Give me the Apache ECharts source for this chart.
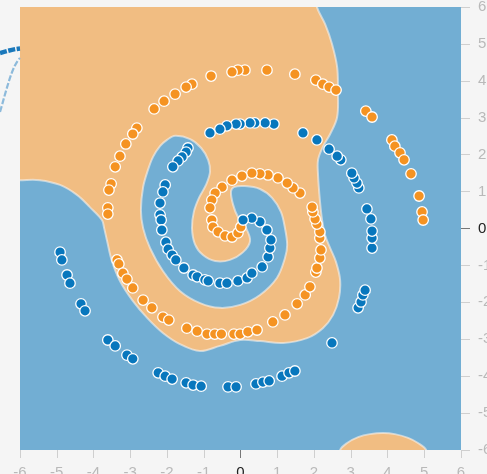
<!DOCTYPE html>
<html>
<head>
<meta charset="utf-8">
<script src="https://cdn.jsdelivr.net/npm/echarts@6/dist/echarts.min.js"></script>
<style>
  html, body { margin: 0; padding: 0; background: #f5f5f5; }
  #chart { width: 487px; height: 474px; }
</style>
</head>
<body>
<div id="chart"></div>
<script>
// Axis ticks
const xTicks = [-6, -5, -4, -3, -2, -1, 0, 1, 2, 3, 4, 5, 6];
const yTicks = [-6, -5, -4, -3, -2, -1, 0, 1, 2, 3, 4, 5, 6];

// Decision regions (outlines in data space)
const orangeRegionMain = [
  [-6.3, 6.3], [2.08, 6.3], [2.08, 6], [2.30, 5.54], [2.49, 5.00], [2.63, 4.37], [2.65, 3.75],
  [2.63, 3.02], [2.44, 2.56], [2.24, 2.21], [2.11, 1.86], [2.11, 1.45], [2.16, 0.77],
  [2.22, 0.23], [2.30, -0.18], [2.44, -0.53], [2.60, -0.91], [2.71, -1.39], [2.68, -1.88],
  [2.52, -2.34], [2.24, -2.70], [1.81, -2.97], [1.16, -3.10], [0.53, -3.05], [-0.01, -3.02],
  [-0.56, -3.18], [-1.10, -3.32], [-1.65, -3.13], [-2.11, -2.83], [-2.54, -2.42],
  [-2.93, -1.96], [-3.28, -1.42], [-3.50, -0.88], [-3.63, -0.34], [-3.71, 0.01],
  [-3.77, 0.23], [-4.10, 0.58], [-4.45, 0.91], [-4.91, 1.18], [-5.46, 1.31], [-6, 1.31],
  [-6.3, 1.31]
];
const blueRegionInner = [
  [-1.78, 2.51], [-1.37, 2.42], [-1.07, 2.18], [-0.88, 1.86], [-0.83, 1.53], [-0.94, 1.18],
  [-1.13, 0.83], [-1.27, 0.45], [-1.32, 0.01], [-1.24, -0.42], [-1.02, -0.72], [-0.69, -0.88],
  [-0.29, -0.85], [0.07, -0.64], [0.26, -0.34], [0.15, 0.01], [-0.07, 0.31], [-0.20, 0.64],
  [-0.26, 0.99], [-0.18, 1.12], [0.12, 1.15], [0.53, 1.07], [0.86, 0.83], [1.10, 0.45],
  [1.21, 0.01], [1.27, -0.45], [1.21, -0.80], [0.99, -1.34], [0.53, -1.80], [-0.01, -2.07],
  [-0.56, -2.15], [-1.10, -2.02], [-1.65, -1.69], [-2.11, -1.15], [-2.46, -0.53],
  [-2.65, 0.01], [-2.71, 0.50], [-2.65, 1.12], [-2.52, 1.58], [-2.38, 1.94], [-2.19, 2.23],
  [-2.00, 2.40]
];
const orangeRegionBottom = [
  [2.71, -6.3], [2.71, -6.0], [2.90, -5.81], [3.20, -5.65], [3.52, -5.57], [3.88, -5.54],
  [4.20, -5.57], [4.56, -5.67], [4.83, -5.81], [5.05, -6.0], [5.05, -6.3]
];

// Class 1 (orange) samples
const orangePoints = [
  [0.12, 4.29], [-0.07, 4.29], [-0.23, 4.24], [0.72, 4.29], [1.48, 4.18], [2.05, 4.02],
  [2.24, 3.91], [2.41, 3.83], [2.60, 3.75], [-0.80, 4.13], [-1.32, 3.91], [-1.48, 3.83],
  [-1.78, 3.64], [-2.08, 3.45], [-2.35, 3.24], [-2.82, 2.72], [-2.93, 2.56], [-3.12, 2.29],
  [-3.28, 1.96], [-3.41, 1.67], [-3.52, 1.21], [-3.58, 1.04], [-3.61, 0.56], [-3.61, 0.39],
  [-3.36, -0.85], [-3.31, -0.96], [-3.20, -1.21], [-3.09, -1.37], [-2.93, -1.61],
  [-2.65, -1.94], [-2.41, -2.15], [-2.11, -2.40], [-1.95, -2.48], [-1.46, -2.70],
  [-1.18, -2.78], [-0.91, -2.86], [-0.70, -2.86], [-0.52, -2.86], [-0.18, -2.86],
  [-0.01, -2.86], [0.20, -2.80], [0.45, -2.75], [0.88, -2.53], [1.21, -2.34], [1.54, -2.04],
  [1.76, -1.80], [1.89, -1.58], [2.05, -1.18], [2.08, -1.07], [2.16, -0.80], [2.19, -0.58],
  [2.16, -0.26], [2.16, -0.09], [2.08, 0.12], [2.03, 0.26], [1.97, 0.45], [1.95, 0.58],
  [1.62, 0.96], [1.43, 1.10], [1.27, 1.23], [1.02, 1.37], [0.75, 1.45], [0.53, 1.48],
  [0.31, 1.50], [0.04, 1.42], [-0.23, 1.31], [-0.50, 1.12], [-0.69, 0.96], [-0.78, 0.77],
  [-0.83, 0.56], [-0.78, 0.23], [-0.75, 0.04], [-0.61, -0.09], [-0.42, -0.20],
  [-0.23, -0.23], [-0.07, -0.12], [0.01, 0.04],
  [3.41, 3.18], [3.58, 3.02], [4.12, 2.40], [4.20, 2.23], [4.34, 2.05], [4.45, 1.86],
  [4.64, 1.48], [4.86, 0.88], [4.94, 0.45], [4.97, 0.23]
];

// Class 2 (blue) samples
const bluePoints = [
  [-4.91, -0.64], [-4.86, -0.85], [-4.72, -1.26], [-4.64, -1.48], [-4.34, -2.04],
  [-4.23, -2.23], [-3.61, -3.02], [-3.41, -3.18], [-3.09, -3.43], [-2.93, -3.53],
  [-2.24, -3.91], [-2.05, -4.00], [-1.86, -4.08], [-1.48, -4.18], [-1.29, -4.24],
  [-1.07, -4.27], [-0.34, -4.29], [-0.12, -4.29], [0.42, -4.21], [0.61, -4.16],
  [0.78, -4.13], [1.13, -4.00], [1.32, -3.91], [1.48, -3.86], [2.49, -3.10], [3.20, -2.15],
  [3.28, -1.99], [3.33, -1.80], [3.39, -1.67], [3.58, -0.53], [3.58, -0.26], [3.58, -0.07],
  [3.55, 0.26], [3.44, 0.53], [3.22, 1.10], [3.17, 1.23], [3.09, 1.37], [3.03, 1.50],
  [2.73, 1.86], [2.63, 1.96], [2.41, 2.15], [2.08, 2.40], [1.70, 2.59], [0.91, 2.83],
  [0.67, 2.86], [0.39, 2.86], [0.26, 2.86], [-0.01, 2.83], [-0.12, 2.83], [-0.37, 2.78],
  [-0.56, 2.69], [-0.83, 2.59],
  [-1.43, 2.18], [-1.48, 2.07], [-1.59, 1.94], [-1.70, 1.83], [-1.84, 1.67], [-2.05, 1.18],
  [-2.11, 0.99], [-2.19, 0.69], [-2.19, 0.37], [-2.16, 0.23], [-2.14, -0.04], [-2.03, -0.37],
  [-1.97, -0.56], [-1.86, -0.72], [-1.76, -0.85], [-1.54, -1.07], [-1.29, -1.26],
  [-1.18, -1.31], [-0.97, -1.39], [-0.88, -1.42], [-0.56, -1.48], [-0.37, -1.48],
  [-0.07, -1.42], [0.18, -1.34], [0.31, -1.21], [0.59, -1.04], [0.75, -0.77], [0.80, -0.53],
  [0.83, -0.31], [0.72, -0.04], [0.53, 0.18], [0.31, 0.28], [0.07, 0.23]
];

const ORANGE_FILL = '#f1bd82';
const BLUE_FILL = '#72aed3';
const ORANGE_DOT = '#f59322';
const BLUE_DOT = '#0877bd';
const FONT = 'Helvetica, Arial, "Liberation Sans", sans-serif';

const regionShapes = [orangeRegionMain, blueRegionInner, orangeRegionBottom];
const regionFills = [ORANGE_FILL, BLUE_FILL, ORANGE_FILL];

const chart = echarts.init(document.getElementById('chart'), null, { renderer: 'canvas' });

const labelText = {
  fontSize: 15,
  fontFamily: FONT,
  formatter: v => (v === 0 ? '{z|0}' : '{n|' + v + '}'),
  rich: {
    n: { color: '#b9b9b9', fontSize: 15, fontFamily: FONT },
    z: { color: '#222', fontSize: 15, fontFamily: FONT }
  }
};

function baseAxis(extra) {
  return Object.assign({
    type: 'value', min: -6, max: 6, interval: 1,
    axisLine: { show: false, onZero: false },
    splitLine: { show: false }
  }, extra);
}

const option = {
  animation: false,
  backgroundColor: '#f5f5f5',
  grid: {
    left: 20, right: 26, top: 7, bottom: 24,
    containLabel: false,
    outerBoundsMode: 'none',
    show: true, backgroundColor: BLUE_FILL, borderWidth: 0
  },
  xAxis: [
    baseAxis({
      position: 'bottom',
      axisTick: { show: true, length: 8, customValues: xTicks, lineStyle: { color: '#cfcfcf', width: 1 } },
      axisLabel: Object.assign({ margin: 15, customValues: xTicks }, labelText)
    }),
    baseAxis({
      position: 'bottom',
      axisTick: { show: true, length: 8, customValues: [0], lineStyle: { color: '#777', width: 1 } },
      axisLabel: { show: false }
    })
  ],
  yAxis: [
    baseAxis({
      position: 'right',
      axisTick: { show: true, length: 9, customValues: yTicks, lineStyle: { color: '#cfcfcf', width: 1 } },
      axisLabel: Object.assign({ margin: 17, customValues: yTicks }, labelText)
    }),
    baseAxis({
      position: 'right',
      axisTick: { show: true, length: 9, customValues: [0], lineStyle: { color: '#777', width: 1 } },
      axisLabel: { show: false }
    })
  ],
  series: [
    {
      type: 'custom',
      name: 'regions',
      coordinateSystem: 'cartesian2d',
      clip: true,
      silent: true,
      z: 1,
      data: regionShapes.map((s, i) => [i]),
      renderItem: function (params, api) {
        const shape = regionShapes[params.dataIndex];
        const pts = shape.map(p => api.coord(p));
        return {
          type: 'polygon',
          shape: { points: pts, smooth: 0.35 },
          style: {
            fill: regionFills[params.dataIndex],
            stroke: 'rgba(246, 242, 236, 0.6)',
            lineWidth: 2
          }
        };
      }
    },
    {
      type: 'scatter',
      name: 'class -1',
      z: 3,
      symbolSize: 10.5,
      data: orangePoints,
      itemStyle: { color: ORANGE_DOT, borderColor: '#ffffff', borderWidth: 1.3, opacity: 1 }
    },
    {
      type: 'scatter',
      name: 'class 1',
      z: 3,
      symbolSize: 10.5,
      data: bluePoints,
      itemStyle: { color: BLUE_DOT, borderColor: '#ffffff', borderWidth: 1.3, opacity: 1 }
    }
  ],
  graphic: [
    {
      type: 'bezierCurve',
      z: 10,
      shape: { x1: 0, y1: 53, x2: 20, y2: 48.5, cpx1: 7, cpy1: 51, cpx2: 14, cpy2: 49 },
      style: { stroke: '#1a78bb', lineWidth: 4.5, lineDash: [7, 1.5], fill: null }
    },
    {
      type: 'bezierCurve',
      z: 10,
      shape: { x1: 0, y1: 112, x2: 20, y2: 58, cpx1: 7, cpy1: 88, cpx2: 12, cpy2: 66 },
      style: { stroke: '#8dbadb', lineWidth: 2.2, lineDash: [6, 2], fill: null }
    }
  ]
};

chart.setOption(option);
</script>
</body>
</html>
